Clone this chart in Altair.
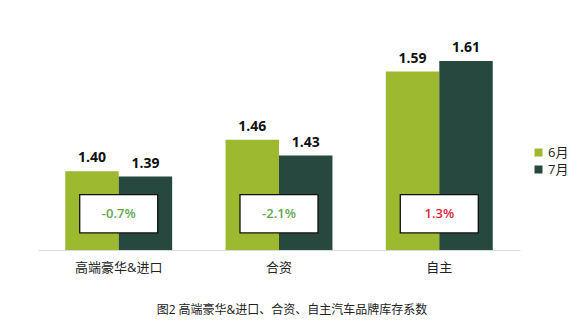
import altair as alt
import pandas as pd

groups = ["高端豪华&进口", "合资", "自主"]
months = ["6月", "7月"]
june = [1.40, 1.46, 1.59]
july = [1.39, 1.43, 1.61]
changes = ["-0.7%", "-2.1%", "1.3%"]
change_colors = ["#63A84E", "#63A84E", "#E3233A"]
bar_colors = ["#9DB92F", "#26483F"]

rows = []
for g, a, b in zip(groups, june, july):
    rows.append({"group": g, "month": months[0], "value": a, "label": f"{a:.2f}"})
    rows.append({"group": g, "month": months[1], "value": b, "label": f"{b:.2f}"})
bars_df = pd.DataFrame(rows)
chg_df = pd.DataFrame({"group": groups, "change": changes, "color": change_colors})

FONT = "Open Sans, Noto Sans CJK SC, sans-serif"
YMIN, YMAX = 1.25, 1.65

xenc = alt.X("group:N", sort=groups,
             scale=alt.Scale(paddingInner=0.333, paddingOuter=0.17),
             axis=alt.Axis(title=None, labelAngle=0, ticks=False, domainColor="#d9d9d9",
                           domainWidth=1.2, labelFontSize=13, labelColor="#222",
                           labelFont=FONT, labelPadding=11))
yscale = alt.Scale(domain=[YMIN, YMAX], zero=False, nice=False)

base = alt.Chart(bars_df)

bars = base.mark_bar().encode(
    x=xenc,
    xOffset=alt.XOffset("month:N", sort=months, scale=alt.Scale(paddingInner=0, paddingOuter=0)),
    y=alt.Y("value:Q", scale=yscale, axis=None),
    y2=alt.datum(YMIN),
    color=alt.Color("month:N", sort=months,
                    scale=alt.Scale(domain=months, range=bar_colors),
                    legend=alt.Legend(title=None, orient="none", legendX=494, legendY=106,
                                      symbolType="square", symbolSize=64, symbolStrokeWidth=0,
                                      labelFontSize=13, labelFont=FONT, labelColor="#222",
                                      rowPadding=3, padding=0, labelOffset=3)),
)

labels = base.mark_text(fontSize=14, fontWeight="bold", font=FONT, color="#111",
                        baseline="alphabetic", dy=-9).encode(
    x=alt.X("group:N", sort=groups),
    xOffset=alt.XOffset("month:N", sort=months),
    y=alt.Y("value:Q", scale=yscale),
    text="label:N",
)

box = alt.Chart(chg_df).mark_bar(width=78, fill="white", stroke="#111", strokeWidth=1.3).encode(
    x=alt.X("group:N", sort=groups),
    y=alt.datum(1.3555),
    y2=alt.datum(1.2825),
)

chg_text = alt.Chart(chg_df).mark_text(fontSize=13, fontWeight=600, font=FONT,
                                       baseline="middle").encode(
    x=alt.X("group:N", sort=groups),
    y=alt.datum(1.319),
    text="change:N",
    color=alt.Color("color:N", scale=None),
)

chart = alt.layer(bars, labels, box, chg_text).properties(
    width=482, height=210,
    title=alt.TitleParams("图2 高端豪华&进口、合资、自主汽车品牌库存系数", orient="bottom",
                          anchor="middle", fontSize=12, fontWeight="normal", font=FONT,
                          color="#222", offset=31, dx=13),
    autosize=alt.AutoSizeParams(type="none"),
    padding={"left": 38, "top": 40, "right": 64, "bottom": 83},
    background="white",
).configure_view(strokeWidth=0)

chart.save("out.html", embed_options={"renderer": "svg", "actions": False})
